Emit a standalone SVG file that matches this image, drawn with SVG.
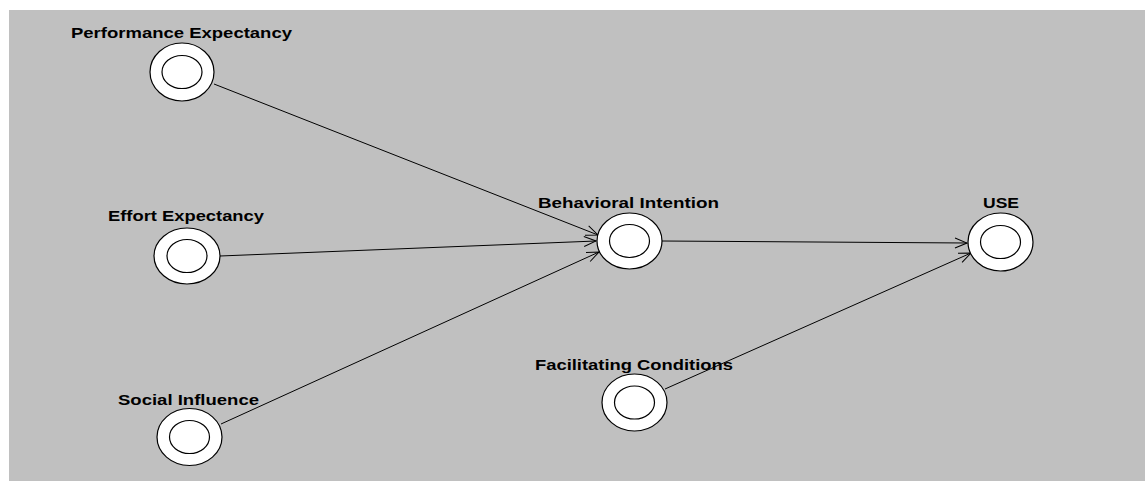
<svg xmlns="http://www.w3.org/2000/svg" width="1145" height="482" viewBox="0 0 1145 482">
  <style>
    .bg { fill: #c0c0c0; }
    .outer { fill: #ffffff; stroke: #000000; stroke-width: 1.2; }
    .inner { fill: #ffffff; stroke: #000000; stroke-width: 1.2; }
    .lbl { font-family: "Liberation Sans", Arial, sans-serif; font-weight: bold; font-size: 15px; fill: #000000; }
    .edge { stroke: #000000; stroke-width: 1; fill: none; marker-end: url(#arr); }
  </style>
  <defs>
    <marker id="arr" markerUnits="userSpaceOnUse" markerWidth="14" markerHeight="14" refX="13" refY="7" orient="auto" viewBox="0 0 14 14">
      <path d="M1,2 L13,7 L1,12" fill="none" stroke="#000000" stroke-width="1"/>
    </marker>
  </defs>
  <rect x="0" y="0" width="1145" height="482" fill="#ffffff"/>
  <rect class="bg" x="9" y="10" width="1136" height="471"/>

  <g id="connectors">
    <line class="edge" x1="214" y1="84" x2="598" y2="235"/>
    <line class="edge" x1="220" y1="256" x2="596" y2="241"/>
    <line class="edge" x1="221" y1="424" x2="599" y2="252"/>
    <line class="edge" x1="662" y1="241" x2="967" y2="243"/>
    <line class="edge" x1="665" y1="389" x2="971" y2="253"/>
  </g>

  <g id="performance-expectancy">
    <ellipse class="outer" cx="182" cy="72" rx="32" ry="29"/>
    <ellipse class="inner" cx="182" cy="72" rx="20" ry="16.5"/>
    <text class="lbl" x="71" y="38" textLength="221" lengthAdjust="spacingAndGlyphs">Performance Expectancy</text>
  </g>

  <g id="effort-expectancy">
    <ellipse class="outer" cx="187" cy="256" rx="33" ry="28"/>
    <ellipse class="inner" cx="187" cy="256" rx="20" ry="16.5"/>
    <text class="lbl" x="108" y="221" textLength="156" lengthAdjust="spacingAndGlyphs">Effort Expectancy</text>
  </g>

  <g id="social-influence">
    <ellipse class="outer" cx="189.5" cy="437" rx="32.5" ry="28.5"/>
    <ellipse class="inner" cx="189.5" cy="437" rx="20" ry="16.5"/>
    <text class="lbl" x="118" y="405" textLength="141" lengthAdjust="spacingAndGlyphs">Social Influence</text>
  </g>

  <g id="behavioral-intention">
    <ellipse class="outer" cx="629.5" cy="241" rx="32.5" ry="28"/>
    <ellipse class="inner" cx="629.5" cy="241" rx="20" ry="16.5"/>
    <text class="lbl" x="538" y="208" textLength="181" lengthAdjust="spacingAndGlyphs">Behavioral Intention</text>
  </g>

  <g id="use">
    <ellipse class="outer" cx="1000.5" cy="242" rx="32.5" ry="29"/>
    <ellipse class="inner" cx="1000.5" cy="242" rx="20" ry="16.5"/>
    <text class="lbl" x="983" y="208" textLength="36" lengthAdjust="spacingAndGlyphs">USE</text>
  </g>

  <g id="facilitating-conditions">
    <ellipse class="outer" cx="634.5" cy="402.5" rx="32.5" ry="28.5"/>
    <ellipse class="inner" cx="634.5" cy="402.5" rx="20" ry="16.5"/>
    <text class="lbl" x="535" y="370" textLength="198" lengthAdjust="spacingAndGlyphs">Facilitating Conditions</text>
  </g>
</svg>
